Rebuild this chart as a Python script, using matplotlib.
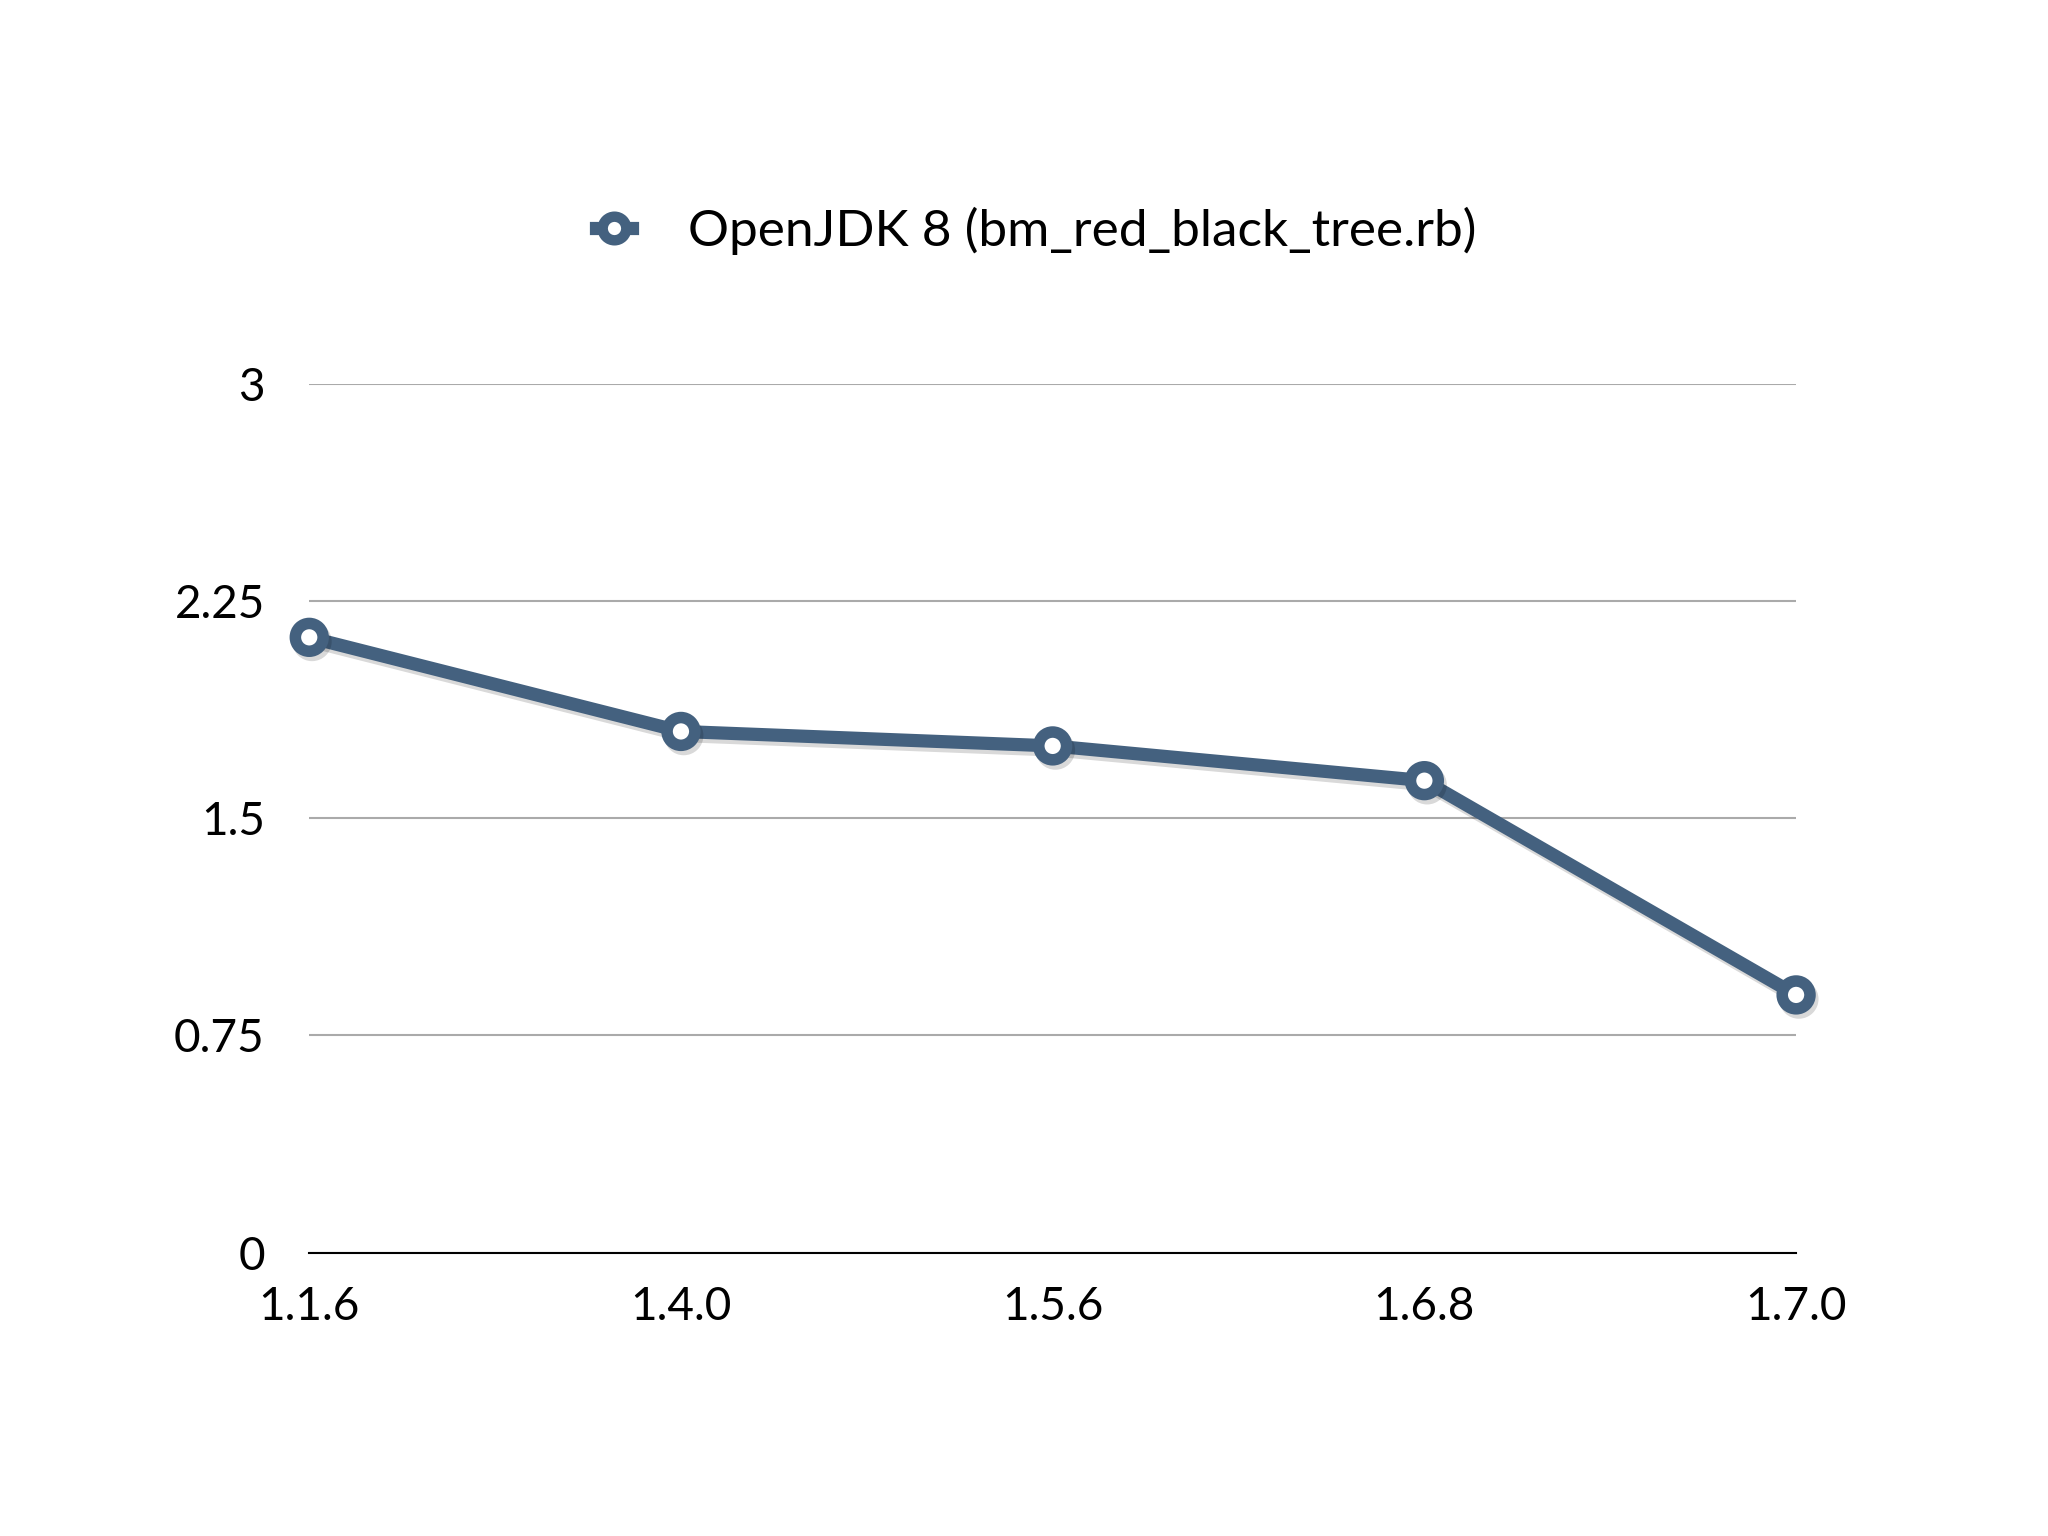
import matplotlib
matplotlib.use("Agg")
import matplotlib.pyplot as plt
import matplotlib.patheffects as pe

versions = ["1.1.6", "1.4.0", "1.5.6", "1.6.8", "1.7.0"]
openjdk8 = [2.125, 1.80, 1.75, 1.63, 0.89]
yticks = [0, 0.75, 1.5, 2.25, 3]
ytick_labels = ["0", "0.75", "1.5", "2.25", "3"]
series_label = "OpenJDK 8 (bm_red_black_tree.rb)"

plt.rcParams['font.family'] = ['Lato', 'DejaVu Sans']
color = "#44617f"

fig = plt.figure(figsize=(20.48, 15.36), dpi=100)
ax = fig.add_axes([0.151, 0.1845, 0.726, 0.5655])
x = list(range(len(versions)))
line, = ax.plot(x, openjdk8, color=color, lw=9.5, marker='o', ms=20, mew=8.3,
                mfc='white', mec=color, clip_on=False, zorder=5, label=series_label,
                path_effects=[pe.SimpleLineShadow(offset=(2, -3), alpha=0.15, shadow_color='black'),
                              pe.Normal()])
ax.set_xlim(0, len(versions) - 1)
ax.set_ylim(0, 3)
ax.set_yticks(yticks)
ax.set_yticklabels(ytick_labels)
ax.set_xticks(x)
ax.set_xticklabels(versions)
ax.yaxis.grid(True, color="#aaaaaa", lw=1.5)
ax.set_axisbelow(True)
for s in ['top', 'right', 'left']:
    ax.spines[s].set_visible(False)
ax.spines['bottom'].set_color('black')
ax.spines['bottom'].set_linewidth(1.5)
ax.spines['bottom'].set_zorder(3)
ax.tick_params(axis='both', length=0, labelsize=33)
ax.tick_params(axis='y', pad=32)
ax.tick_params(axis='x', pad=24)

leg = fig.legend(handles=[line], labels=[series_label], loc='center',
                 bbox_to_anchor=(0.506, 1 - 231 / 1536), frameon=False, fontsize=37,
                 handlelength=0.7, handletextpad=1.1, numpoints=1)
for h in leg.legend_handles:
    h.set_path_effects([])
    h.set_markersize(17)
    h.set_markeredgewidth(7.5)

fig.savefig("out.png", dpi=100, facecolor='white')
